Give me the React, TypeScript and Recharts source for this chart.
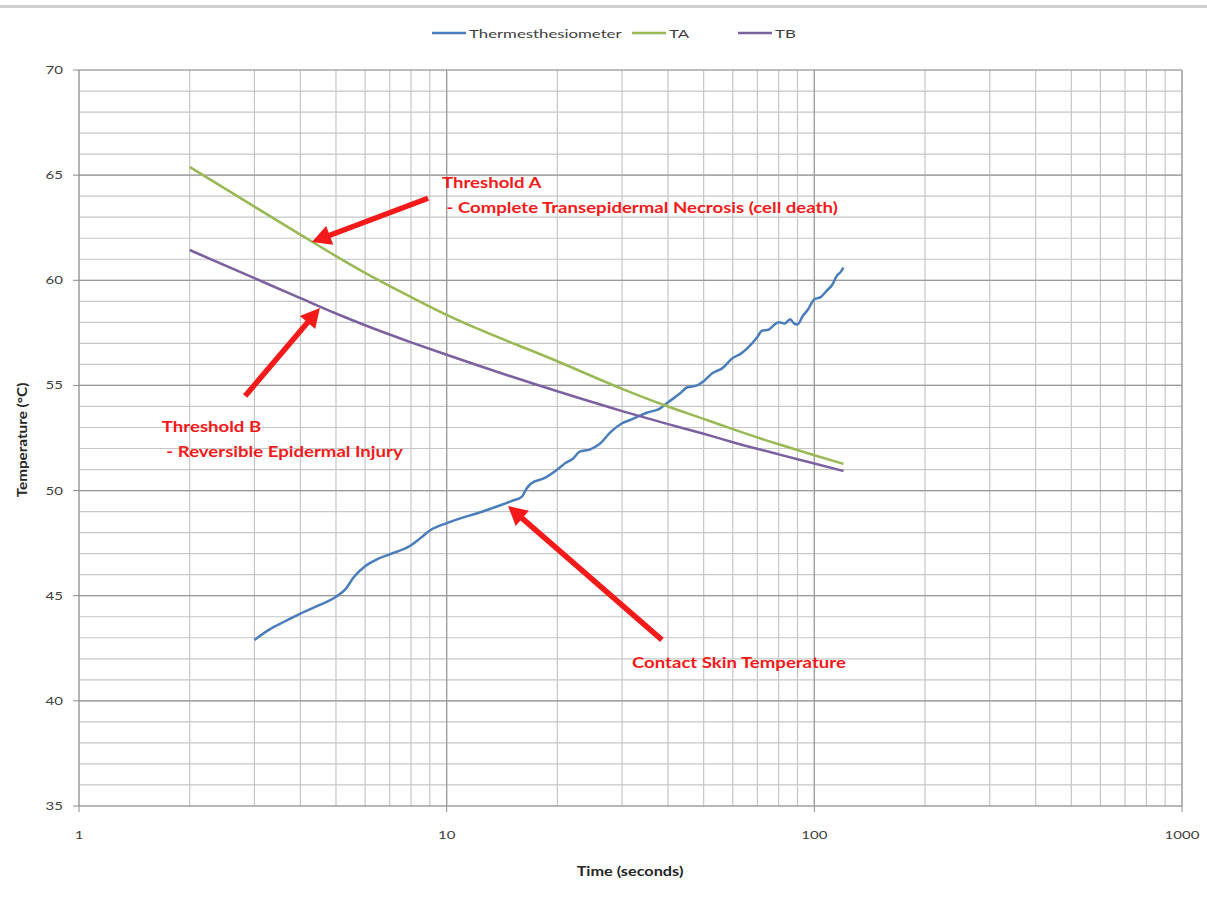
import React from 'react';
import {
  LineChart,
  Line,
  XAxis,
  YAxis,
  CartesianGrid,
  ReferenceLine,
  ReferenceDot,
} from 'recharts';

// Thermesthesiometer contact reading (time in s, temperature in °C)
const thermTime = [
  3, 3.3, 3.6, 4, 4.5, 5, 5.3, 5.6, 6, 6.5, 7, 8, 8.5, 9, 10, 11, 12, 13, 14, 15, 16, 16.5, 17,
  18.5, 20, 21, 22, 23, 24.5, 26, 28, 30, 32, 35, 38, 40, 43, 45, 48, 50, 53, 56, 60, 63, 66, 70,
  72, 75, 78, 80, 83, 86, 88, 90, 93, 96, 100, 104, 108, 112, 115, 118, 120,
];
const thermTemp = [
  42.9, 43.4, 43.75, 44.15, 44.55, 44.95, 45.3, 45.9, 46.4, 46.75, 46.97, 47.4, 47.75, 48.1, 48.45,
  48.7, 48.9, 49.1, 49.3, 49.5, 49.7, 50.1, 50.35, 50.6, 51.0, 51.3, 51.5, 51.85, 51.95, 52.2, 52.8,
  53.2, 53.4, 53.7, 53.9, 54.2, 54.6, 54.9, 55.0, 55.2, 55.6, 55.8, 56.3, 56.5, 56.8, 57.3, 57.6,
  57.65, 57.9, 58.0, 57.95, 58.15, 57.95, 57.9, 58.3, 58.6, 59.1, 59.2, 59.5, 59.8, 60.2, 60.4, 60.6,
];

// Threshold curves
const thresholdTime = [2, 3, 4, 5, 6, 8, 10, 20, 30, 40, 50, 60, 80, 100, 120];
const taTemp = [65.39, 63.5, 62.17, 61.15, 60.35, 59.2, 58.35, 56.15, 54.84, 54.0, 53.41, 52.92, 52.2, 51.68, 51.27];
const tbTemp = [61.44, 60.1, 59.15, 58.42, 57.86, 57.05, 56.46, 54.72, 53.78, 53.16, 52.7, 52.3, 51.72, 51.29, 50.93];

const timeTicks = [
  1, 2, 3, 4, 5, 6, 7, 8, 9, 10, 20, 30, 40, 50, 60, 70, 80, 90, 100, 200, 300, 400, 500, 600, 700,
  800, 900, 1000,
];
const timeLabels = [1, 10, 100, 1000];
const tempTicks = [
  35, 36, 37, 38, 39, 40, 41, 42, 43, 44, 45, 46, 47, 48, 49, 50, 51, 52, 53, 54, 55, 56, 57, 58, 59,
  60, 61, 62, 63, 64, 65, 66, 67, 68, 69, 70,
];
const tempLabels = [35, 40, 45, 50, 55, 60, 65, 70];
const majorTimeLines = [10, 100, 1000];
const majorTempLines = [40, 45, 50, 55, 60, 65, 70];

// Annotation arrows: [tail, tip] in chart units
const arrowA = [{ x: 8.9, y: 63.9 }, { x: 4.3, y: 61.82 }];
const arrowB = [{ x: 2.83, y: 54.5 }, { x: 4.52, y: 58.68 }];
const arrowC = [{ x: 38.5, y: 42.9 }, { x: 14.68, y: 49.27 }];

const notes = [
  { x: 9.71, y: 64.39, lines: ['Threshold A', ' - Complete Transepidermal Necrosis (cell death)'] },
  { x: 1.68, y: 52.79, lines: ['Threshold B', ' - Reversible Epidermal Injury'] },
  { x: 31.9, y: 41.56, lines: ['Contact Skin Temperature'] },
];

const zip = (xs: number[], ys: number[]) => xs.map((t, i) => ({ t, temp: ys[i] }));

const series = [
  { name: 'Thermesthesiometer', color: '#4a7ebb', data: zip(thermTime, thermTemp) },
  { name: 'TA', color: '#98b954', data: zip(thresholdTime, taTemp) },
  { name: 'TB', color: '#7d60a0', data: zip(thresholdTime, tbTemp) },
];

const FONT = 'Lato, "Open Sans", sans-serif';
const RED = '#f41a1a';
const WIDE = 1.25; // labels run a little wide

const TimeTick = (props: any) => {
  const { x, y, payload } = props;
  if (!timeLabels.includes(payload.value)) return <g />;
  return (
    <g>
      <line x1={x} x2={x} y1={y - 10} y2={y - 4} stroke="#8c8c8c" />
      <text
        transform={`translate(${x} ${y + 23}) scale(${WIDE} 1)`}
        textAnchor="middle"
        fontSize={12}
        fill="#404040"
        fontFamily={FONT}
      >
        {payload.value}
      </text>
    </g>
  );
};

const TempTick = (props: any) => {
  const { x, y, payload } = props;
  if (!tempLabels.includes(payload.value)) return <g />;
  return (
    <g>
      <line x1={x + 4} x2={x + 10} y1={y} y2={y} stroke="#8c8c8c" />
      <text
        transform={`translate(${x - 6} ${y + 4}) scale(${WIDE} 1)`}
        textAnchor="end"
        fontSize={12}
        fill="#404040"
        fontFamily={FONT}
      >
        {payload.value}
      </text>
    </g>
  );
};

// red arrow, head at (x2, y2)
const ArrowShape = (props: any) => {
  const { x1, y1, x2, y2 } = props;
  const dx = x2 - x1;
  const dy = y2 - y1;
  const len = Math.sqrt(dx * dx + dy * dy);
  const ux = dx / len;
  const uy = dy / len;
  const head = 19;
  const half = 10;
  const bx = x2 - ux * head;
  const by = y2 - uy * head;
  const pts = `${x2},${y2} ${bx - uy * half},${by + ux * half} ${bx + uy * half},${by - ux * half}`;
  return (
    <g>
      <line x1={x1} y1={y1} x2={bx + ux * 2} y2={by + uy * 2} stroke={RED} strokeWidth={5.5} />
      <polygon points={pts} fill={RED} />
    </g>
  );
};

const noteShape = (lines: string[]) => (props: any) => {
  const { cx, cy } = props;
  return (
    <text
      transform={`translate(${cx} ${cy}) scale(1.2 1)`}
      fill={RED}
      fontSize={15.5}
      fontWeight="bold"
      fontFamily={FONT}
    >
      {lines.map((l, i) => (
        <tspan key={i} x={0} dy={i === 0 ? 0 : 25} style={{ whiteSpace: 'pre' }}>
          {l}
        </tspan>
      ))}
    </text>
  );
};

// legend item start positions along the top
const legendX = [432, 632, 738];

const ChartLegend = () => (
  <svg width={1207} height={50} style={{ position: 'absolute', left: 0, top: 10 }}>
    {series.map((s, i) => (
      <g key={s.name}>
        <line x1={legendX[i]} x2={legendX[i] + 34} y1={23} y2={23} stroke={s.color} strokeWidth={2.5} />
        <text
          transform={`translate(${legendX[i] + 37} 27.5) scale(1.4 1)`}
          fontSize={12}
          fill="#404040"
          fontFamily={FONT}
        >
          {s.name}
        </text>
      </g>
    ))}
  </svg>
);

const titleStyle: React.CSSProperties = {
  position: 'absolute',
  whiteSpace: 'nowrap',
  fontFamily: FONT,
  fontWeight: 'bold',
  fontSize: 12.5,
  color: '#262626',
};

const App: React.FC = () => {
  return (
    <div style={{ position: 'absolute', left: 0, top: 0, width: 1207, height: 899, background: '#fff' }}>
      <div style={{ position: 'absolute', left: 0, top: 5, width: 1207, height: 3, background: '#cfcfcf' }} />
      <ChartLegend />
      <LineChart width={1207} height={899} margin={{ top: 70, right: 25, bottom: 63, left: 39 }}>
        <CartesianGrid stroke="#c6c6c6" strokeWidth={1.2} />
        <XAxis
          dataKey="t"
          type="number"
          scale="log"
          domain={[1, 1000]}
          ticks={timeTicks}
          interval={0}
          allowDataOverflow
          tickLine={false}
          tickSize={6}
          tickMargin={4}
          tick={<TimeTick />}
          stroke="#8c8c8c"
        />
        <YAxis
          type="number"
          domain={[35, 70]}
          ticks={tempTicks}
          interval={0}
          width={40}
          tickLine={false}
          tickSize={6}
          tickMargin={4}
          tick={<TempTick />}
          stroke="#8c8c8c"
        />
        {majorTimeLines.map((v) => (
          <ReferenceLine key={`vx${v}`} x={v} stroke="#9a9a9a" strokeWidth={1.2} />
        ))}
        {majorTempLines.map((v) => (
          <ReferenceLine key={`hy${v}`} y={v} stroke="#9a9a9a" strokeWidth={1.2} />
        ))}
        {series.map((s) => (
          <Line
            key={s.name}
            data={s.data}
            dataKey="temp"
            name={s.name}
            type="monotone"
            stroke={s.color}
            strokeWidth={2.5}
            dot={false}
            activeDot={false}
            isAnimationActive={false}
          />
        ))}
        {[arrowA, arrowB, arrowC].map((seg, i) => (
          <ReferenceLine key={`arrow${i}`} segment={seg} shape={<ArrowShape />} />
        ))}
        {notes.map((n, i) => (
          <ReferenceDot key={`note${i}`} x={n.x} y={n.y} r={0} shape={noteShape(n.lines)} />
        ))}
      </LineChart>
      <div
        style={{
          ...titleStyle,
          left: 22,
          top: 440,
          transform: 'translate(-50%, -50%) rotate(-90deg) scale(1.22, 1)',
        }}
      >
        Temperature (°C)
      </div>
      <div style={{ ...titleStyle, left: 630, top: 871, transform: 'translate(-50%, -50%) scale(1.3, 1)' }}>
        Time (seconds)
      </div>
    </div>
  );
};

export default App;
